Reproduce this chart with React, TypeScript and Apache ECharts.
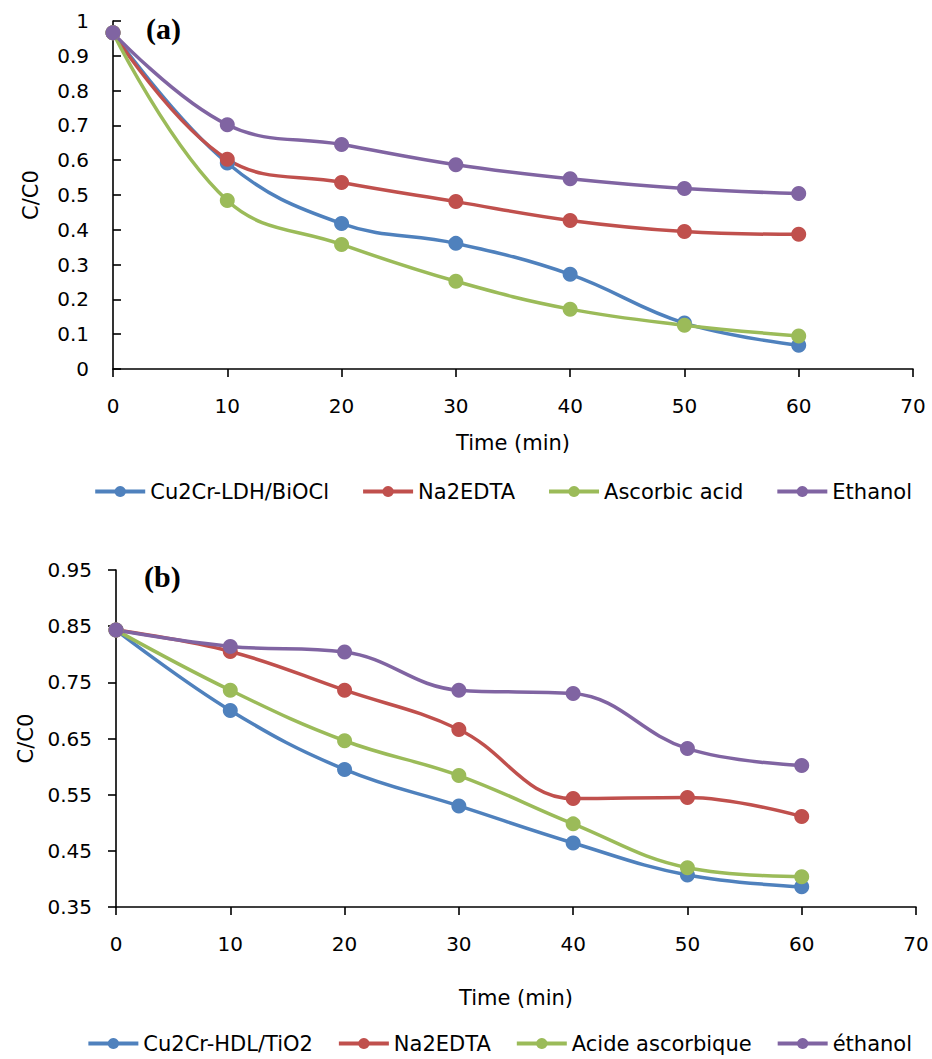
import React, { useEffect, useRef } from "react";
import * as echarts from "echarts";

const timeMin = [0, 10, 20, 30, 40, 50, 60];

// Panel (a)
const namesA = ["Cu2Cr-LDH/BiOCl", "Na2EDTA", "Ascorbic acid", "Ethanol"];
const a_ldh = [0.966, 0.592, 0.418, 0.361, 0.272, 0.132, 0.068];
const a_edta = [0.966, 0.603, 0.536, 0.481, 0.427, 0.395, 0.387];
const a_asc = [0.966, 0.484, 0.358, 0.252, 0.172, 0.126, 0.095];
const a_eth = [0.966, 0.702, 0.645, 0.587, 0.547, 0.519, 0.504];

// Panel (b)
const namesB = ["Cu2Cr-HDL/TiO2", "Na2EDTA", "Acide ascorbique", "éthanol"];
const b_hdl = [0.843, 0.7, 0.595, 0.53, 0.464, 0.407, 0.386];
const b_edta = [0.843, 0.805, 0.736, 0.666, 0.543, 0.545, 0.511];
const b_asc = [0.843, 0.736, 0.646, 0.584, 0.498, 0.42, 0.404];
const b_eth = [0.843, 0.814, 0.804, 0.736, 0.73, 0.632, 0.602];

const colors = ["#4F81BD", "#C0504D", "#9BBB59", "#8064A2"];

const FONT = "DejaVu Sans";

export default function App() {
  const ref = useRef<HTMLDivElement>(null);
  useEffect(() => {
    document.body.style.margin = "0";
    document.body.style.overflow = "hidden";
    if (!ref.current) return;
    const chart = echarts.init(ref.current, undefined, { renderer: "svg" });
    const pair = (ys: number[]) => timeMin.map((x, i) => [x, ys[i]]);
    const mk = (name: string, ys: number[], ci: number, idx: number) => ({
      type: "line",
      name,
      data: pair(ys),
      xAxisIndex: idx,
      yAxisIndex: idx,
      smooth: 0.4,
      clip: false,
      symbol: "circle",
      symbolSize: 15,
      lineStyle: { width: 3.5, color: colors[ci] },
      itemStyle: { color: colors[ci] },
    });
    const axisLine = { lineStyle: { color: "#000", width: 1.6 } };
    const labelStyle = { color: "#000", fontFamily: FONT, fontSize: 20 };
    const xAx = (gi: number, gap: number) => ({
      type: "value",
      gridIndex: gi,
      min: 0,
      max: 70,
      interval: 10,
      axisLine,
      axisTick: { show: true, length: 8, lineStyle: { color: "#000", width: 1.6 } },
      axisLabel: { ...labelStyle, margin: 27 },
      splitLine: { show: false },
      name: "Time (min)",
      nameLocation: "middle",
      nameGap: gap,
      nameTextStyle: { ...labelStyle, fontSize: 21 },
    });
    const legendBase = {
      right: 15,
      itemWidth: 50,
      itemHeight: 14,
      lineStyle: { width: 4 },
      textStyle: { ...labelStyle, fontSize: 21 },
    };
    const option = {
      animation: false,
      grid: [
        { left: 113, right: 19, top: 21, height: 348 },
        { left: 116, right: 16, top: 570, height: 337 },
      ],
      xAxis: [xAx(0, 63), xAx(1, 80)],
      yAxis: [
        {
          type: "value",
          gridIndex: 0,
          min: 0,
          max: 1,
          interval: 0.1,
          axisLine: { show: true, ...axisLine },
          axisTick: { show: true, inside: true, length: 8, lineStyle: { color: "#000", width: 1.6 } },
          axisLabel: {
            ...labelStyle,
            margin: 24,
            formatter: (v: number) => String(Math.round(v * 10) / 10),
          },
          splitLine: { show: false },
          name: "C/C0",
          nameLocation: "middle",
          nameGap: 72,
          nameTextStyle: { ...labelStyle, fontSize: 21 },
        },
        {
          type: "value",
          gridIndex: 1,
          min: 0.35,
          max: 0.95,
          interval: 0.1,
          axisLine: { show: true, ...axisLine },
          axisTick: { show: true, length: 8, lineStyle: { color: "#000", width: 1.6 } },
          axisLabel: {
            ...labelStyle,
            margin: 24,
            formatter: (v: number) => (Math.round(v * 100) / 100).toFixed(2),
          },
          splitLine: { show: false },
          name: "C/C0",
          nameLocation: "middle",
          nameGap: 75,
          nameTextStyle: { ...labelStyle, fontSize: 21 },
        },
      ],
      legend: [
        { ...legendBase, data: namesA, top: 476, itemGap: 32 },
        { ...legendBase, data: namesB, top: 1028, itemGap: 24 },
      ],
      graphic: [
        {
          type: "text",
          left: 146,
          top: 13,
          style: { text: "(a)", font: "bold 30px 'Liberation Serif', serif", fill: "#000" },
        },
        {
          type: "text",
          left: 144,
          top: 561,
          style: { text: "(b)", font: "bold 30px 'Liberation Serif', serif", fill: "#000" },
        },
      ],
      series: [
        mk(namesA[0], a_ldh, 0, 0),
        mk(namesA[1], a_edta, 1, 0),
        mk(namesA[2], a_asc, 2, 0),
        mk(namesA[3], a_eth, 3, 0),
        mk(namesB[0], b_hdl, 0, 1),
        mk(namesB[1], b_edta, 1, 1),
        mk(namesB[2], b_asc, 2, 1),
        mk(namesB[3], b_eth, 3, 1),
      ],
    };
    chart.setOption(option as any);
    return () => chart.dispose();
  }, []);
  return <div ref={ref} style={{ width: 932, height: 1059 }} />;
}
